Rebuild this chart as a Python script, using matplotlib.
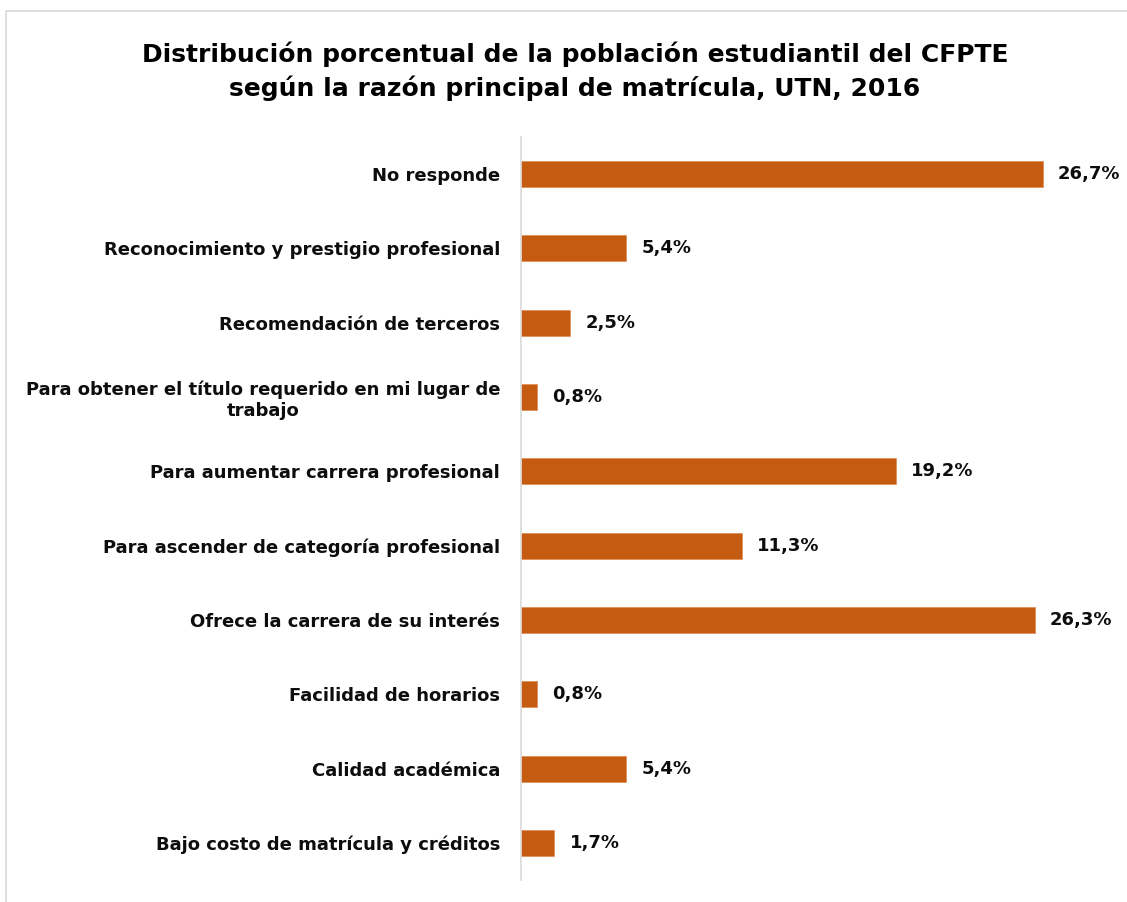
import matplotlib.pyplot as plt
from matplotlib.patches import Rectangle

# Data (top to bottom as shown)
categories = [
    "No responde",
    "Reconocimiento y prestigio profesional",
    "Recomendación de terceros",
    "Para obtener el título requerido en mi lugar de\ntrabajo",
    "Para aumentar carrera profesional",
    "Para ascender de categoría profesional",
    "Ofrece la carrera de su interés",
    "Facilidad de horarios",
    "Calidad académica",
    "Bajo costo de matrícula y créditos",
]
values = [26.7, 5.4, 2.5, 0.8, 19.2, 11.3, 26.3, 0.8, 5.4, 1.7]
value_labels = ["26,7%", "5,4%", "2,5%", "0,8%", "19,2%", "11,3%", "26,3%", "0,8%", "5,4%", "1,7%"]

plt.rcParams['font.family'] = ['DejaVu Sans']

fig = plt.figure(figsize=(11.27, 9.02), dpi=100)
ax = fig.add_axes([0.4623, 0.0244, 0.52, 0.8237])

pos = list(range(len(categories)))
ax.barh(pos, values, height=0.35, color='#C55A11', edgecolor='#E0905A', linewidth=0.6)
ax.set_ylim(len(categories) - 0.5, -0.5)
ax.set_xlim(0, 30)

ax.set_yticks(pos)
ax.set_yticklabels(categories, fontsize=13, fontweight='bold', color='#0d0d0d',
                   ha='right', multialignment='center')
ax.tick_params(axis='y', length=0, pad=15)
ax.set_xticks([])

for s in ['top', 'right', 'bottom']:
    ax.spines[s].set_visible(False)
ax.spines['left'].set_color('#D9D9D9')
ax.spines['left'].set_linewidth(1.2)

for p, v, lab in zip(pos, values, value_labels):
    ax.annotate(lab, (v, p), xytext=(11, 0), textcoords='offset points',
                va='center', ha='left', fontsize=13, fontweight='bold', color='#0d0d0d')

fig.text(0.51, 0.921, "Distribución porcentual de la población estudiantil del CFPTE\n"
         "según la razón principal de matrícula, UTN, 2016",
         ha='center', va='center', fontsize=18, fontweight='bold', linespacing=1.45)

# light frame around the chart area
fig.patches.append(Rectangle((6 / 1127, -0.05), 1.2, 1 - 11 / 902 + 0.05,
                             transform=fig.transFigure, fill=False,
                             edgecolor='#D9D9D9', linewidth=1.2))

fig.savefig('out.png', dpi=100)
